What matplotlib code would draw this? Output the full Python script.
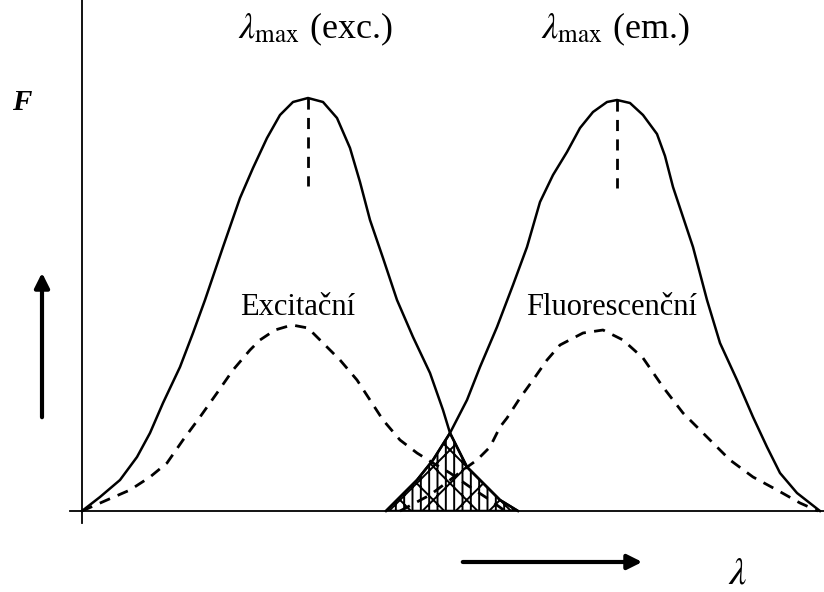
import matplotlib
matplotlib.use("Agg")
import matplotlib.pyplot as plt
import numpy as np

plt.rcParams['font.family'] = ['Liberation Serif', 'DejaVu Serif']
plt.rcParams['mathtext.fontset'] = 'stix'
plt.rcParams['hatch.linewidth'] = 1.4

# points (wavelength, F) in arbitrary units
exc_x = [0, 18, 38, 55, 68, 81, 98, 111, 123, 141, 158, 171, 185, 198, 211, 226, 241, 255, 268, 278, 288,
         301, 315, 331, 348, 361, 368, 385, 401, 418, 436]
exc_y = [0, 14, 31, 54, 78, 108, 144, 178, 211, 264, 313, 343, 373, 396, 409, 413, 409, 393, 363, 329, 291,
         253, 211, 174, 138, 101, 78, 44, 28, 11, 0]

em_x = [304, 335, 351, 368, 385, 398, 415, 431, 445, 458, 471, 485, 498, 511, 525, 535, 548, 561, 575, 583,
        591, 611, 625, 638, 655, 671, 685, 698, 715, 738]
em_y = [0, 31, 51, 78, 111, 144, 184, 226, 264, 309, 336, 359, 383, 399, 409, 411, 408, 396, 377, 355,
        324, 264, 211, 168, 131, 94, 64, 38, 18, 0]

exc2_x = [0, 25, 48, 68, 85, 101, 118, 135, 151, 168, 178, 193, 210, 226, 238, 258, 275, 288, 301, 318,
          335, 351, 368, 388, 408, 423]
exc2_y = [0, 11, 21, 34, 48, 71, 94, 118, 141, 161, 171, 181, 186, 183, 171, 151, 131, 111, 91, 71,
          58, 48, 38, 24, 11, 0]

em2_x = [318, 348, 368, 381, 395, 408, 418, 425, 438, 451, 465, 478, 501, 521, 541, 561, 581, 601, 625,
         648, 671, 695, 718, 736]
em2_y = [0, 16, 31, 41, 51, 64, 84, 93, 113, 131, 151, 166, 178, 181, 171, 153, 124, 98, 74,
         51, 34, 21, 8, 0]

peaks = [226, 535]
peak_tops = [413, 411]
peak_len = 88

labels_top = [r'$\lambda_{\mathrm{max}}$ (exc.)', r'$\lambda_{\mathrm{max}}$ (em.)']
labels_mid = ['Excitační', 'Fluorescenční']

fig = plt.figure(figsize=(8.24, 5.92), dpi=100)
ax = fig.add_axes([82 / 824, 81 / 592, 742 / 824, 511 / 592])
ax.set_xlim(0, 742)
ax.set_ylim(0, 511)
ax.axis('off')

# axes lines
ax.plot([-12, 742], [0, 0], color='k', lw=1.3, clip_on=False)
ax.plot([0, 0], [-12, 511], color='k', lw=1.3, clip_on=False)

ax.plot(exc_x, exc_y, color='k', lw=1.8, clip_on=False, solid_joinstyle='round')
ax.plot(em_x, em_y, color='k', lw=1.8, clip_on=False, solid_joinstyle='round')
ax.plot(exc2_x, exc2_y, color='k', lw=2.0, ls=(0, (4, 3)), clip_on=False)
ax.plot(em2_x, em2_y, color='k', lw=2.0, ls=(0, (4, 3)), clip_on=False)

# overlap of the two spectra
cross = 368
ex = np.array(exc_x); ey = np.array(exc_y)
mx = np.array(em_x); my = np.array(em_y)
ov_x = np.concatenate([mx[mx <= cross], ex[ex > cross]])
ov_y = np.concatenate([my[mx <= cross], ey[ex > cross]])
ax.fill(ov_x, ov_y, facecolor='none', edgecolor='k', hatch='||x', lw=1.8)

for px, top in zip(peaks, peak_tops):
    ax.plot([px, px], [top, top - peak_len], color='k', lw=2.0, ls=(0, (4, 3)))

ax.text(233, 473, labels_top[0], fontsize=26, ha='center', va='baseline', clip_on=False)
ax.text(533, 473, labels_top[1], fontsize=26, ha='center', va='baseline', clip_on=False)
ax.text(216, 196, labels_mid[0], fontsize=22, ha='center', va='baseline')
ax.text(530, 196, labels_mid[1], fontsize=22, ha='center', va='baseline')

ax.text(-70, 401, 'F', fontsize=21, fontweight='bold', fontstyle='italic',
        ha='left', va='baseline', clip_on=False)
ax.text(656, -72, r'$\lambda$', fontsize=28, ha='center', va='baseline', clip_on=False)

ax.annotate('', xy=(-40, 241), xytext=(-40, 91), annotation_clip=False,
            arrowprops=dict(arrowstyle='-|>', color='k', lw=3, mutation_scale=22))
ax.annotate('', xy=(563, -51), xytext=(378, -51), annotation_clip=False,
            arrowprops=dict(arrowstyle='-|>', color='k', lw=3, mutation_scale=22))

fig.savefig('out.png', dpi=100, facecolor='white')
